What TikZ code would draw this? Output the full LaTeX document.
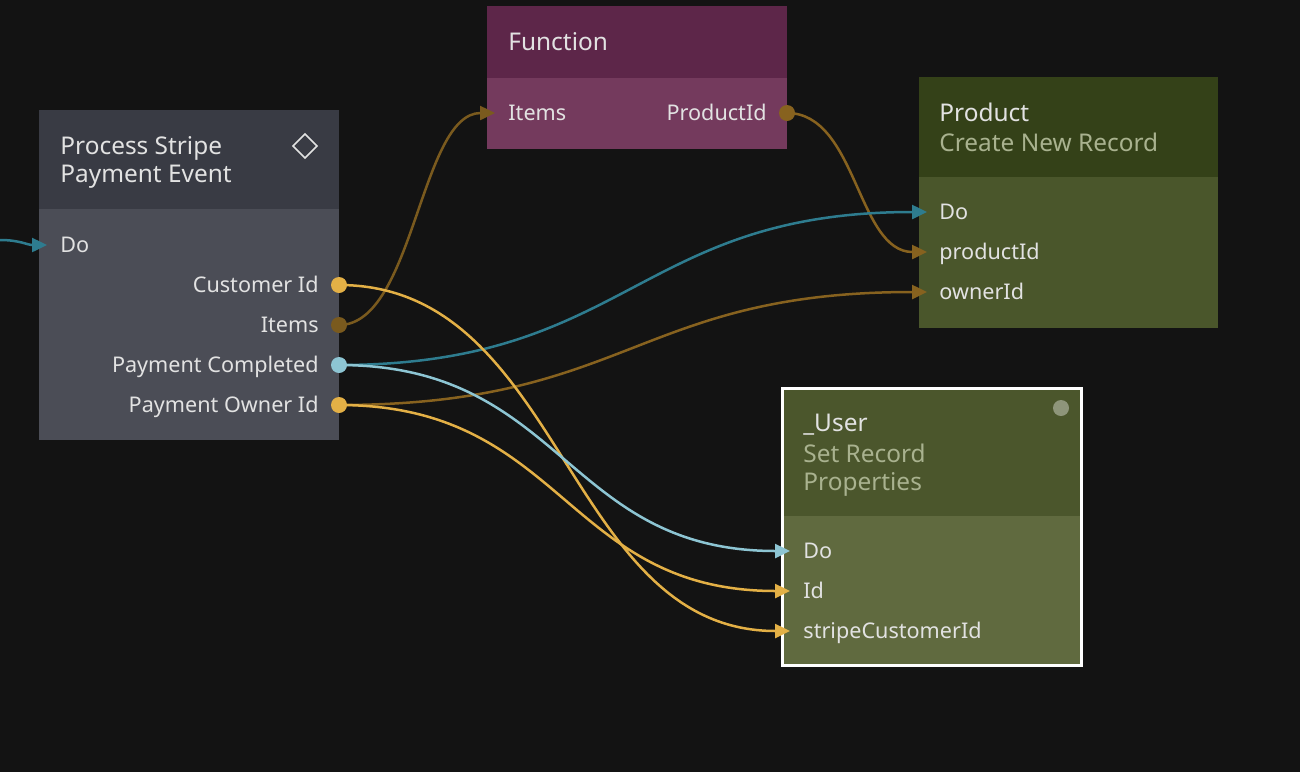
\documentclass[tikz,border=0pt]{standalone}
\usepackage{fontspec}
\setmainfont{Noto Sans}
\usetikzlibrary{arrows.meta}
\definecolor{bg}{HTML}{131313}
\definecolor{prochdr}{HTML}{393B44}
\definecolor{procbody}{HTML}{4B4D56}
\definecolor{funchdr}{HTML}{5D2649}
\definecolor{funcbody}{HTML}{743A5D}
\definecolor{prodhdr}{HTML}{344118}
\definecolor{prodbody}{HTML}{4A562B}
\definecolor{userhdr}{HTML}{4B562C}
\definecolor{userbody}{HTML}{606A3F}
\definecolor{txt}{HTML}{E2E2E2}
\definecolor{subtxt}{HTML}{A9B28F}
\definecolor{teal}{HTML}{2E7C8F}
\definecolor{lblue}{HTML}{8DC5D3}
\definecolor{yel}{HTML}{E3B046}
\definecolor{brown}{HTML}{87621F}
\definecolor{dbrown}{HTML}{7A5A1E}
\definecolor{greydot}{HTML}{8E957A}
\begin{document}
\begin{tikzpicture}[x=0.5pt,y=-0.5pt,
  lbl/.style={text=txt, inner sep=0pt, font=\fontsize{10.8}{13}\selectfont},
  ttl/.style={text=txt, inner sep=0pt, font=\fontsize{12.2}{14}\selectfont},
  sub/.style={text=subtxt, inner sep=0pt, font=\fontsize{12.2}{14}\selectfont},
  boxnode/.style={anchor=north west, inner sep=0pt, outer sep=0pt},
  wire/.style={line width=1.25pt},
  tip/.style={-{Triangle[length=7.5pt,width=7pt]}},
  port/.style={circle, inner sep=0pt, minimum size=8pt}]
\useasboundingbox (0,0) rectangle (1300,772);
\fill[bg] (0,0) rectangle (1300,772);

% ---- Process Stripe Payment Event
\node[boxnode, fill=procbody, minimum width=150pt, minimum height=165pt] (proc) at (39,110) {};
\fill[prochdr] (39,110) rectangle (339,209);
\node[ttl, anchor=base west] (proct1) at (60,154) {Process Stripe};
\node[ttl, anchor=base west] (proct2) at (60,182) {Payment Event};
\node[draw=txt, line width=0.8pt, minimum size=8.5pt, inner sep=0pt, rotate=45] (procdia) at (305,146) {};
\node[lbl, anchor=base west] (procdo) at (60,252) {Do};
\node[lbl, anchor=base east] (pcid) at (319,292) {Customer Id};
\node[lbl, anchor=base east] (pitems) at (319,332) {Items};
\node[lbl, anchor=base east] (ppc) at (319,372) {Payment Completed};
\node[lbl, anchor=base east] (ppo) at (319,412) {Payment Owner Id};
\coordinate (oCid) at (339,285);
\coordinate (oItems) at (339,325);
\coordinate (oPC) at (339,365);
\coordinate (oPO) at (339,405);
\coordinate (iProcDo) at (47,245);
\coordinate (offleft) at (0,240);

% ---- Function
\node[boxnode, fill=funcbody, minimum width=150pt, minimum height=71.5pt] (func) at (487,6) {};
\fill[funchdr] (487,6) rectangle (787,78);
\node[ttl, anchor=base west] (functitle) at (508,50) {Function};
\node[lbl, anchor=base west] (fitems) at (508,120) {Items};
\node[lbl, anchor=base east] (fpid) at (767,120) {ProductId};
\coordinate (iFItems) at (495,113);
\coordinate (oFPid) at (787,113);

% ---- Product
\node[boxnode, fill=prodbody, minimum width=149.5pt, minimum height=125.5pt] (prod) at (919,77) {};
\fill[prodhdr] (919,77) rectangle (1218,177);
\node[ttl, anchor=base west] (prodt1) at (939,121) {Product};
\node[sub, anchor=base west] (prodt2) at (939,151) {Create New Record};
\node[lbl, anchor=base west] (proddo) at (939,219) {Do};
\node[lbl, anchor=base west] (prodpid) at (939,259) {productId};
\node[lbl, anchor=base west] (prodoid) at (939,299) {ownerId};
\coordinate (iPDo) at (927,212);
\coordinate (iPPid) at (927,252);
\coordinate (iPOid) at (927,292);

% ---- _User
\node[boxnode, fill=userbody, minimum width=148pt, minimum height=137pt] (user) at (784,390) {};
\fill[userhdr] (784,390) rectangle (1080,516);
\draw[white, line width=1.5pt] (782.5,388.5) rectangle (1081.5,665.5);
\node[fill=greydot, circle, minimum size=8pt, inner sep=0pt] (userdot) at (1061,408) {};
\node[ttl, anchor=base west] (usert1) at (803,431) {\_User};
\node[sub, anchor=base west] (usert2) at (803,462) {Set Record};
\node[sub, anchor=base west] (usert3) at (803,490) {Properties};
\node[lbl, anchor=base west] (userdo) at (803,558) {Do};
\node[lbl, anchor=base west] (userid) at (803,598) {Id};
\node[lbl, anchor=base west] (userscid) at (803,638) {stripeCustomerId};
\coordinate (iUDo) at (790,551);
\coordinate (iUId) at (790,591);
\coordinate (iUScid) at (790,631);

% ---- connectors
\draw[wire, teal, tip] (offleft) .. controls +(20,0) and +(-20,0) .. (iProcDo);
\draw[wire, dbrown, tip] (oItems) .. controls +(75,0) and +(-75,0) .. (iFItems);
\draw[wire, brown, tip] (oFPid) .. controls +(70,0) and +(-70,0) .. (iPPid);
\draw[wire, teal, tip] (oPC) .. controls +(290,0) and +(-290,0) .. (iPDo);
\draw[wire, brown, tip] (oPO) .. controls +(290,0) and +(-290,0) .. (iPOid);
\draw[wire, yel, tip] (oCid) .. controls +(225,0) and +(-225,0) .. (iUScid);
\draw[wire, lblue, tip] (oPC) .. controls +(225,0) and +(-225,0) .. (iUDo);
\draw[wire, yel, tip] (oPO) .. controls +(225,0) and +(-225,0) .. (iUId);

% ---- port dots
\node[port, fill=yel] (dCid) at (oCid) {};
\node[port, fill=dbrown] (dItems) at (oItems) {};
\node[port, fill=lblue] (dPC) at (oPC) {};
\node[port, fill=yel] (dPO) at (oPO) {};
\node[port, fill=brown] (dFPid) at (oFPid) {};
\end{tikzpicture}
\end{document}
